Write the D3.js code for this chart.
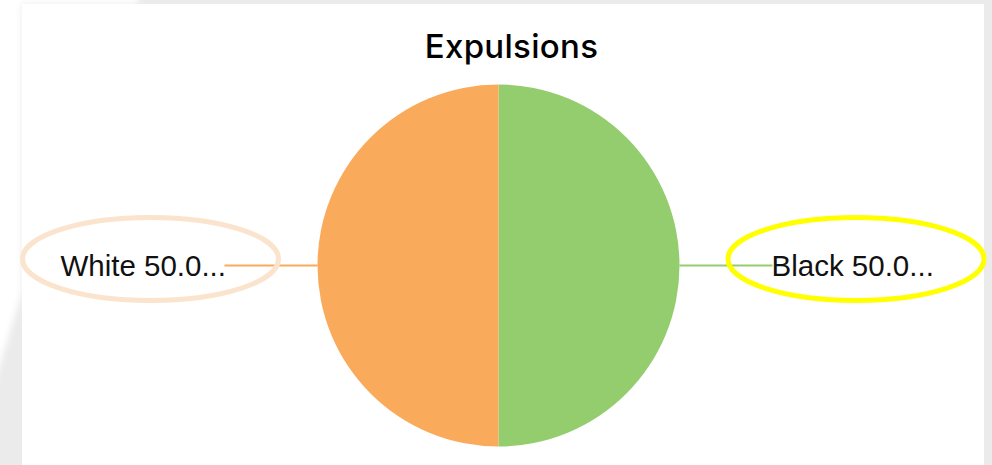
<!DOCTYPE html>
<html>
<head>
<meta charset="utf-8">
<script src="https://cdn.jsdelivr.net/npm/d3@7"></script>
<style>
  html, body { margin: 0; padding: 0; background: #ebebeb; }
  svg { display: block; }
</style>
</head>
<body>
<svg id="chart" width="992" height="465"></svg>
<script>
// Expulsions by race
const categories = ["Black", "White"];
const values = [50, 50];
const colors = ["#94cd6e", "#f9aa5a"];
const ringColors = ["#ffff00", "#fae4cd"];
const title = "Expulsions";

const W = 992, H = 465;
const svg = d3.select("#chart");

// page backdrop: gray frame with white card
svg.append("rect").attr("x", 0).attr("y", 0).attr("width", W).attr("height", H).attr("fill", "#ebebeb");
svg.append("rect").attr("x", 22).attr("y", 4).attr("width", 962).attr("height", H - 4).attr("fill", "#ffffff");

const defs = svg.append("defs");
defs.append("filter").attr("id", "soft")
  .attr("x", "-20%").attr("y", "-20%").attr("width", "140%").attr("height", "140%")
  .append("feGaussianBlur").attr("stdDeviation", 3);

// white glare over the top-left corner of the frame
svg.append("path")
  .attr("d", d3.line()([[-10, -10], [138, -10], [138, 4], [22, 4], [22, 292], [-10, 398]]) + "Z")
  .attr("fill", "#ffffff")
  .attr("filter", "url(#soft)");

// title
svg.append("text")
  .attr("x", 511.5).attr("y", 58)
  .attr("text-anchor", "middle")
  .attr("font-family", "Inter, 'Noto Sans', sans-serif")
  .attr("font-weight", 500)
  .attr("font-size", 33)
  .attr("letter-spacing", 0.3)
  .attr("fill", "#000")
  .text(title);

const cx = 498.5, cy = 265.5, r = 181;
const data = categories.map((c, i) => ({ name: c, value: values[i], color: colors[i], ring: ringColors[i] }));

const pie = d3.pie().sort(null).value(d => d.value);
const arc = d3.arc().innerRadius(0).outerRadius(r);
const arcs = pie(data);

const g = svg.append("g").attr("transform", `translate(${cx},${cy})`);

g.selectAll("path.slice")
  .data(arcs)
  .join("path")
  .attr("class", "slice")
  .attr("d", arc)
  .attr("fill", d => d.data.color);

// leader lines and labels
const leader = 93;
const total = d3.sum(values);
const fmt = d3.format(".1f");

arcs.forEach(a => {
  const mid = (a.startAngle + a.endAngle) / 2;
  const sx = Math.sin(mid), sy = -Math.cos(mid);
  const side = sx >= 0 ? 1 : -1;
  const x0 = sx * r, y0 = sy * r;
  const x1 = x0 + side * leader;

  g.append("line")
    .attr("x1", x0).attr("y1", y0)
    .attr("x2", x1).attr("y2", y0)
    .attr("stroke", a.data.color)
    .attr("stroke-width", 2);

  const label = `${a.data.name} ${fmt(a.data.value / total * 100)}...`;
  const tx = side > 0 ? x1 - 1 : x1 + 1.5;
  g.append("text")
    .attr("x", tx).attr("y", y0 + 10.5)
    .attr("text-anchor", side > 0 ? "start" : "end")
    .attr("font-family", "'Liberation Sans', Arial, sans-serif")
    .attr("font-size", 29.5)
    .attr("fill", "#111")
    .text(label);

  // highlight ring around the label
  const ringCx = side > 0 ? x1 + 83.5 : x1 - 74;
  g.append("ellipse")
    .attr("cx", ringCx).attr("cy", y0 - 6.5)
    .attr("rx", 128).attr("ry", 41.5)
    .attr("fill", "none")
    .attr("stroke", a.data.ring)
    .attr("stroke-width", 5);
});
</script>
</body>
</html>
